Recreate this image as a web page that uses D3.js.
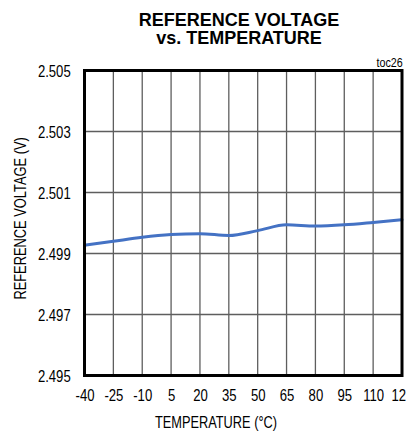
<!DOCTYPE html>
<html><head><meta charset="utf-8">
<script src="https://cdn.jsdelivr.net/npm/d3@7/dist/d3.min.js"></script>
<style>html,body{margin:0;padding:0;background:#fff;overflow:hidden}</style>
</head><body>
<svg id="c" width="406" height="435"></svg>
<script>
const temperatures = [-40, -25, -10, 5, 20, 35, 50, 65, 80, 95, 110, 125];
const refVoltage = [2.49927, 2.49940, 2.49953, 2.49962, 2.49965, 2.49959, 2.49975, 2.49994, 2.49990, 2.49994, 2.50002, 2.50011];
const yTicks = [2.495, 2.497, 2.499, 2.501, 2.503, 2.505];
const titleLines = ["REFERENCE VOLTAGE", "vs. TEMPERATURE"];
const xTitle = "TEMPERATURE (°C)";
const yTitle = "REFERENCE VOLTAGE (V)";
const tag = "toc26";

const svg = d3.select("#c");
const L = 84.5, R = 402, T = 70.5, B = 375.5;
const FONT = "'Liberation Sans', Arial, sans-serif";
const SX = 0.82; // condensed look

const x = d3.scalePoint().domain(temperatures.map(String)).range([L, R]);
const y = d3.scaleLinear().domain([2.495, 2.505]).range([B, T]);

// gridlines
const g = svg.append("g");
g.selectAll(".vg").data(temperatures.slice(1, -1)).enter().append("line")
  .attr("x1", d => x(String(d))).attr("x2", d => x(String(d)))
  .attr("y1", T).attr("y2", B)
  .attr("stroke", "#5e5e5e").attr("stroke-width", 1.3);
g.selectAll(".hg").data(yTicks.slice(1, -1)).enter().append("line")
  .attr("x1", L).attr("x2", R)
  .attr("y1", d => y(d)).attr("y2", d => y(d))
  .attr("stroke", "#5e5e5e").attr("stroke-width", 1.3);

// data line
const line = d3.line()
  .x((d, i) => x(String(temperatures[i])))
  .y(d => y(d))
  .curve(d3.curveMonotoneX);
svg.append("path").datum(refVoltage)
  .attr("d", line).attr("fill", "none")
  .attr("stroke", "#4472C4").attr("stroke-width", 3).attr("stroke-linecap", "round");

// frame
svg.append("rect").attr("x", L).attr("y", T).attr("width", R - L).attr("height", B - T)
  .attr("fill", "none").attr("stroke", "#000").attr("stroke-width", 3);

// y axis labels
const yAxis = d3.axisLeft(y).tickValues(yTicks).tickFormat(d3.format(".3f")).tickSize(0).tickPadding(13.8 / SX);
const ya = svg.append("g").attr("transform", `translate(${L},0)`).call(yAxis);
ya.select(".domain").remove();
ya.selectAll("text").attr("font-family", FONT).attr("font-size", 16).attr("fill", "#000")
  .attr("dy", "0.36em").attr("transform", `scale(${SX},1)`);

// x axis labels
const xAxis = d3.axisBottom(x).tickSize(0);
const xa = svg.append("g").attr("transform", `translate(0,${B})`).call(xAxis);
xa.select(".domain").remove();
xa.selectAll("text").attr("font-family", FONT).attr("font-size", 16).attr("fill", "#000")
  .attr("y", 25.2).attr("dy", 0).attr("transform", `scale(${SX},1)`);

// titles
svg.selectAll(".title").data(titleLines).enter().append("text")
  .attr("x", 239).attr("y", (d, i) => 25.5 + i * 18)
  .attr("text-anchor", "middle").attr("font-family", FONT)
  .attr("font-weight", "bold").attr("font-size", 18).attr("fill", "#000")
  .text(d => d);

svg.append("text").attr("transform", `translate(216,428) scale(0.8,1)`).attr("text-anchor", "middle")
  .attr("font-family", FONT).attr("font-size", 16).attr("fill", "#000").text(xTitle);

svg.append("text").attr("transform", "translate(26,218.4) rotate(-90) scale(0.78,1)").attr("text-anchor", "middle")
  .attr("font-family", FONT).attr("font-size", 16.5).attr("fill", "#000").text(yTitle);

svg.append("text").attr("transform", "translate(402.7,67.3) scale(0.86,1)").attr("text-anchor", "end")
  .attr("font-family", FONT).attr("font-size", 12.5).attr("fill", "#000").text(tag);
</script>
</body></html>
